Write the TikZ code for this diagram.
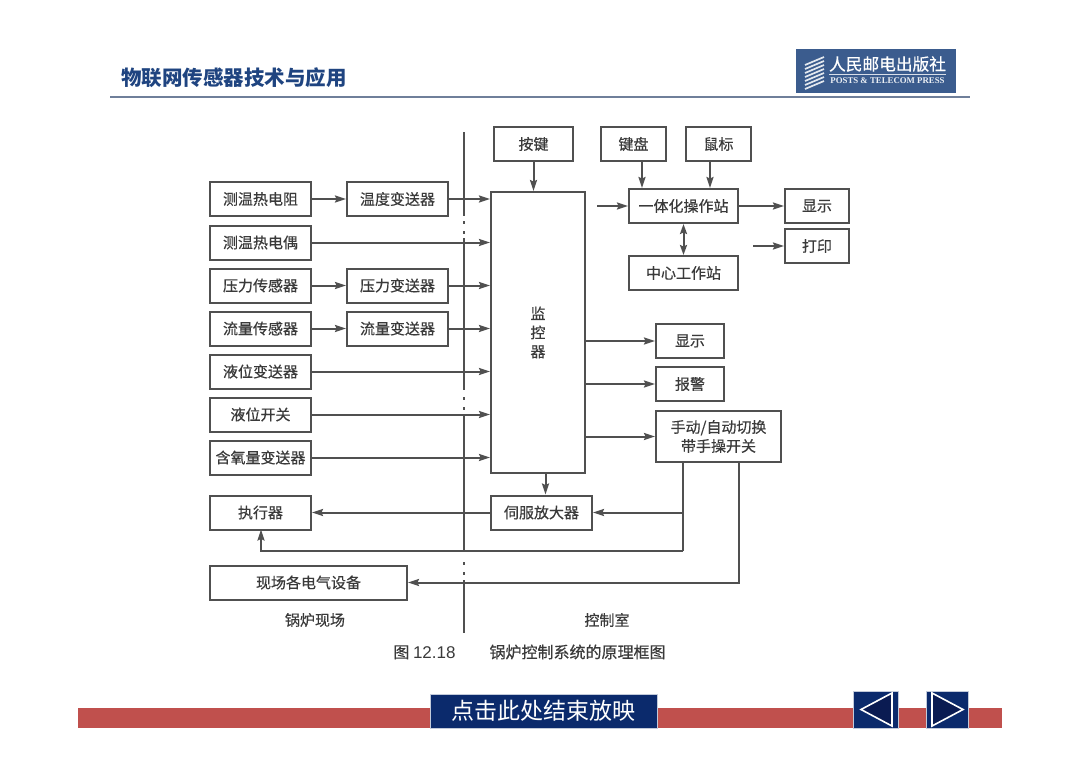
\documentclass[tikz,border=0pt]{standalone}
\usepackage{fontspec}
\setmainfont{Noto Sans CJK SC}
\newfontfamily\boxfont[FakeBold=0.5]{Noto Sans CJK SC}
\newfontfamily\logolatin{Liberation Serif}
\newfontfamily\capfont{Liberation Sans}
\usetikzlibrary{arrows.meta}
\definecolor{ink}{HTML}{505050}
\definecolor{inktext}{HTML}{3A3A3A}
\definecolor{titleblue}{HTML}{1F4480}
\definecolor{rulegray}{HTML}{6F7F9A}
\definecolor{logoblue}{HTML}{3B5C8E}
\definecolor{barred}{HTML}{C0504D}
\definecolor{navy}{HTML}{0B2A6C}
\definecolor{deepnavy}{HTML}{0A1B52}
\tikzset{
  x=1pt,y=-1pt,
  box/.style={draw=ink,line width=2pt,text=inktext,inner sep=0pt,align=center,
    minimum height=34pt,font=\boxfont\fontsize{15}{19}\selectfont},
  wire/.style={draw=ink,line width=2pt},
  arrow/.style={wire,-{Stealth[length=11pt,width=7pt,inset=1.5pt]}},
  bothways/.style={wire,{Stealth[length=10pt,width=7pt,inset=1.5pt]}-{Stealth[length=10pt,width=7pt,inset=1.5pt]}},
  divider/.style={draw=ink,line width=2pt},
  dots/.style={draw=ink,line width=2pt,dash pattern=on 3pt off 7pt},
  plain/.style={text=inktext,inner sep=0pt,font=\boxfont\fontsize{15}{18}\selectfont},
  navbtn/.style={fill=navy,draw=white!75!navy,line width=1pt,inner sep=0pt},
  navtri/.style={fill=deepnavy,draw=white,line width=1.6pt,line join=miter},
}
\begin{document}
\begin{tikzpicture}
\useasboundingbox (0,0) rectangle (1080,764);
% header
\node[text=titleblue,inner sep=0pt,font=\fontsize{20.5}{24}\selectfont\bfseries] (title) at (234,78) {物联网传感器技术与应用};
\draw[draw=rulegray,line width=1.5pt] (110,97) -- (970,97);
\node[fill=logoblue,minimum width=160pt,minimum height=44pt,inner sep=0pt] (logo) at (876,71) {};
\foreach \yy in {0,4,...,24} \draw[white!85!logoblue,line width=1.7pt] (805,65+\yy) -- (824,57+\yy);
\node[text=white,inner sep=0pt,font=\boxfont\fontsize{16.7}{18}\selectfont] (logocn) at (887.5,64) {人民邮电出版社};
\node[text=white!90!logoblue,inner sep=0pt,font=\logolatin\fontsize{8.8}{9}\selectfont\bfseries] (logoen) at (887.5,81) {POSTS \& TELECOM PRESS};
\draw[white!80!logoblue,line width=.6pt] (829,74.5) -- (946,74.5);
% divider
\draw[divider] (463.5,132) -- (463.5,216);
\draw[dots] (463.5,221) -- (463.5,236);
\draw[divider] (463.5,238) -- (463.5,390);
\draw[dots] (463.5,397) -- (463.5,412);
\draw[divider] (463.5,415) -- (463.5,552);
\draw[dots] (463.5,562) -- (463.5,577);
\draw[divider] (463.5,580) -- (463.5,633);
% left boxes
\node[box,minimum width=101pt] (rtd) at (260.5,199) {测温热电阻};
\node[box,minimum width=101pt] (tc) at (260.5,242.5) {测温热电偶};
\node[box,minimum width=101pt] (ps) at (260.5,285.5) {压力传感器};
\node[box,minimum width=101pt] (fs) at (260.5,328.5) {流量传感器};
\node[box,minimum width=101pt] (lt) at (260.5,371.5) {液位变送器};
\node[box,minimum width=101pt] (ls) at (260.5,414.5) {液位开关};
\node[box,minimum width=101pt] (ox) at (260.5,457.5) {含氧量变送器};
\node[box,minimum width=101pt] (act) at (260.5,512.5) {执行器};
\node[box,minimum width=197pt] (field) at (308.5,582.5) {现场各电气设备};
\node[box,minimum width=101pt] (tt) at (397.5,199) {温度变送器};
\node[box,minimum width=101pt] (pt) at (397.5,285.5) {压力变送器};
\node[box,minimum width=101pt] (ft) at (397.5,328.5) {流量变送器};
% centre
\node[box,minimum width=94pt,minimum height=281pt] (mon) at (538,332.5) {监\\控\\器};
\node[box,minimum width=79pt] (key) at (533.5,144) {按键};
\node[box,minimum width=101pt] (servo) at (541.5,512.5) {伺服放大器};
% right
\node[box,minimum width=65pt] (kbd) at (633.5,144) {键盘};
\node[box,minimum width=65pt] (mouse) at (718.5,144) {鼠标};
\node[box,minimum width=109pt] (ows) at (683.5,206) {一体化操作站};
\node[box,minimum width=109pt] (cws) at (683.5,273) {中心工作站};
\node[box,minimum width=64pt] (dsp) at (817,206) {显示};
\node[box,minimum width=64pt] (prn) at (817,246) {打印};
\node[box,minimum width=68pt] (dsp2) at (690,341) {显示};
\node[box,minimum width=68pt] (alm) at (690,384) {报警};
\node[box,minimum width=125pt,minimum height=51pt] (sw) at (718.5,436.5) {手动/自动切换\\带手操开关};
% free ends
\coordinate (freeows) at (597,206);
\coordinate (freeprn) at (753,246);
\coordinate (tapa) at (683,462);
\coordinate (tapb) at (739,462);
% wires
\draw[arrow] (rtd) -- (tt);
\draw[arrow] (ps) -- (pt);
\draw[arrow] (fs) -- (ft);
\draw[arrow] (tt.east) -- (tt.east -| mon.west);
\draw[arrow] (tc.east) -- (tc.east -| mon.west);
\draw[arrow] (pt.east) -- (pt.east -| mon.west);
\draw[arrow] (ft.east) -- (ft.east -| mon.west);
\draw[arrow] (lt.east) -- (lt.east -| mon.west);
\draw[arrow] (ls.east) -- (ls.east -| mon.west);
\draw[arrow] (ox.east) -- (ox.east -| mon.west);
\draw[arrow] (key.south) -- (key.south |- mon.north);
\draw[arrow] (642,160.5 |- kbd.south) -- (642,160.5 |- ows.north);
\draw[arrow] (710,160.5 |- mouse.south) -- (710,160.5 |- ows.north);
\draw[arrow] (freeows) -- (ows.west);
\draw[arrow] (ows) -- (dsp);
\draw[arrow] (freeprn) -- (prn.west);
\draw[bothways] (ows) -- (cws);
\draw[arrow] (dsp2.west -| mon.east) -- (dsp2.west);
\draw[arrow] (alm.west -| mon.east) -- (alm.west);
\draw[arrow] (sw.west -| mon.east) -- (sw.west);
\draw[arrow] (545.5,300 |- mon.south) -- (545.5,300 |- servo.north);
\draw[arrow] (servo) -- (act);
\draw[wire] (tapa) -- (683,551);
\draw[arrow] (683,551) -- (261,551) -- (261,529.5);
\draw[arrow] (683,512.5) -- (servo.east);
\draw[arrow] (tapb) -- (739,582.5) -- (field.east);
% labels
\node[plain] (zonea) at (315,620) {锅炉现场};
\node[plain] (zoneb) at (607,620) {控制室};
\node[text=inktext,inner sep=0pt,font=\boxfont\fontsize{16}{18}\selectfont] (cap) at (529.5,652) {图 {\capfont\fontsize{17}{18}\selectfont 12.18}\hspace{34pt}锅炉控制系统的原理框图};
% footer
\fill[barred] (78,708) rectangle (1002,728);
\node[navbtn,minimum width=227pt,minimum height=34pt,text=white,font=\fontsize{23}{26}\selectfont] (end) at (543.5,711) {点击此处结束放映};
\node[navbtn,minimum width=45pt,minimum height=37pt] (prev) at (876,709.5) {};
\node[navbtn,minimum width=42pt,minimum height=37pt] (next) at (947,709.5) {};
\draw[navtri] (892,693) -- (861,709.5) -- (892,726) -- cycle;
\draw[navtri] (932,693) -- (963,709.5) -- (932,726) -- cycle;
\end{tikzpicture}
\end{document}
